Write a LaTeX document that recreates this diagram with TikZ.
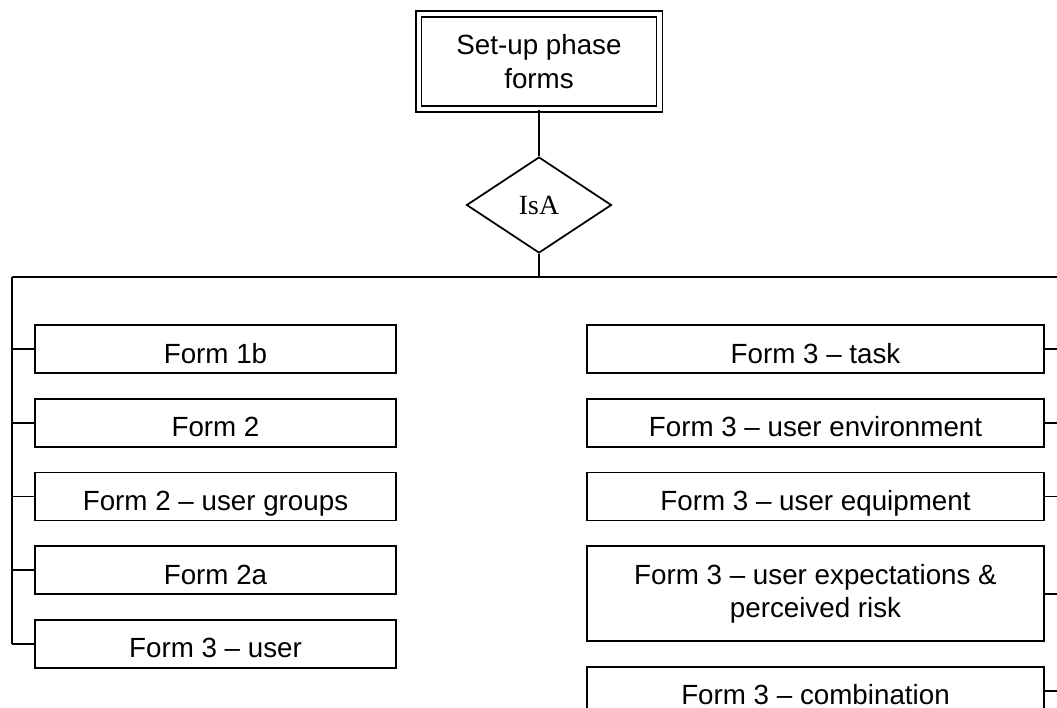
\documentclass[tikz,border=0pt]{standalone}
\usepackage{fontspec}
\newfontfamily\formfont{Liberation Sans}
\newfontfamily\isafont{Liberation Serif}
\usetikzlibrary{shapes.geometric, positioning}

\begin{document}
\begin{tikzpicture}[x=0.02cm, y=-0.02cm, line width=1pt, node distance=0.48cm,
    box/.style={draw, rectangle, inner sep=0pt, align=center,
        font=\formfont\fontsize{15.8}{18.4}\selectfont},
    form/.style={box, minimum width=7.22cm, minimum height=0.96cm,
        text height=0.56cm, text depth=0pt},
    rform/.style={form, minimum width=9.14cm},
    tallform/.style={box, minimum width=9.14cm, minimum height=1.9cm},
    root/.style={box, double, double distance=2.3pt,
        minimum width=4.82cm, minimum height=1.9cm,
        font=\formfont\fontsize{15.8}{19}\selectfont},
    isa/.style={draw, diamond, inner sep=0pt, minimum width=2.9cm,
        minimum height=1.92cm, font=\isafont\fontsize{15.8}{18}\selectfont}]
    \useasboundingbox (0,0) rectangle (1057,707);
    \clip (0,0) rectangle (1057,707);

    \node (setup) [root] at (539,61.5) {Set-up phase\\forms};
    \node (isa) [isa] at (539,205) {IsA};

    % left column
    \node (f1b) [form] at (215.5,349) {Form 1b};
    \node (f2) [form, below=of f1b] {Form 2};
    \node (f2ug) [form, below=of f2] {Form 2 – user groups};
    \node (f2a) [form, below=of f2ug] {Form 2a};
    \node (f3u) [form, below=of f2a] {Form 3 – user};

    % right column
    \node (f3t) [rform] at (815.5,349) {Form 3 – task};
    \node (f3env) [rform, below=of f3t] {Form 3 – user environment};
    \node (f3eq) [rform, below=of f3env] {Form 3 – user equipment};
    \node (f3exp) [tallform, below=of f3eq] {Form 3 – user expectations \&\\perceived risk};
    \node (f3c) [rform, below=of f3exp] {Form 3 – combination};

    \coordinate (busL) at (12,277);
    \coordinate (busR) at (1070,277);

    \draw (setup) -- (isa);
    \draw (isa.south) -- (isa.south |- busL);
    \draw (busL) -- (busR);
    \draw (busL) -- (busL |- f3u.west);
    \draw (busR) -- (busR |- f3c.east);
    \foreach \f in {f1b, f2, f2ug, f2a, f3u}
        \draw (\f.west) -- (\f.west -| busL);
    \foreach \f in {f3t, f3env, f3eq, f3exp, f3c}
        \draw (\f.east) -- (\f.east -| busR);
\end{tikzpicture}
\end{document}
